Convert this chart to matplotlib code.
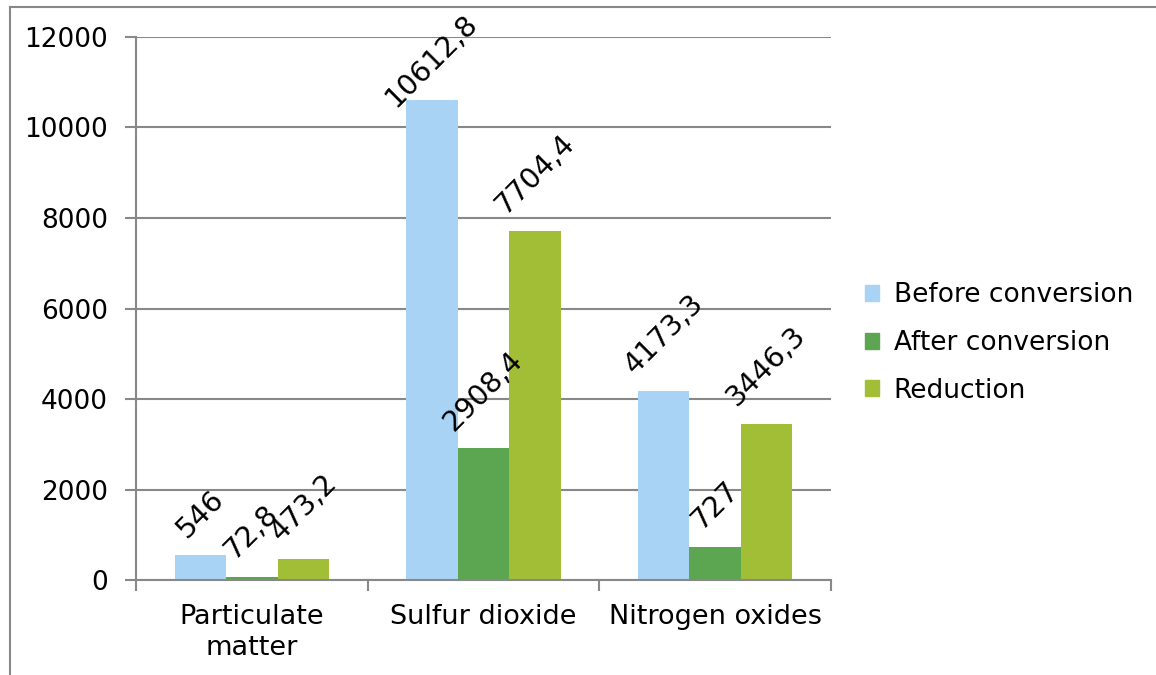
import matplotlib.pyplot as plt
import numpy as np
from matplotlib import rcParams
from matplotlib.lines import Line2D
from matplotlib.patches import Patch

fontsize = 19.5
labelsize = 20.5
gridcolor = '#888888'

rcParams['font.family'] = 'DejaVu Sans'
rcParams['font.size'] = fontsize

categories = ['Particulate\nmatter', 'Sulfur dioxide', 'Nitrogen oxides']
series = ['Before conversion', 'After conversion', 'Reduction']
before = [546, 10612.8, 4173.3]
after = [72.8, 2908.4, 727]
reduction = [473.2, 7704.4, 3446.3]
yticks = [0, 2000, 4000, 6000, 8000, 10000, 12000]
colors = ['#A8D3F4', '#5CA551', '#A2BE37']

fig = plt.figure(figsize=(11.56, 6.75), dpi=100)
ax = fig.add_axes([0.1176, 0.1407, 0.6013, 0.8045])

x = np.arange(len(categories))
width = 0.222
labels = []
for i, (vals, name) in enumerate(zip([before, after, reduction], series)):
    pos = x + (i - 1) * width
    ax.bar(pos, vals, width, color=colors[i], label=name, zorder=2)
    for px, v in zip(pos, vals):
        txt = f'{v:g}'.replace('.', ',')
        t = ax.annotate(txt, (px, v), xytext=(0, 9), textcoords='offset points',
                        ha='center', va='bottom', rotation=45, fontsize=labelsize,
                        zorder=3)
        labels.append(t)

ax.set_xlim(-0.5, 2.5)
ax.set_ylim(0, 12000)
ax.set_yticks(yticks)
ax.set_yticklabels([str(v) for v in yticks], fontsize=19)
ax.set_xticks(x)
ax.set_xticklabels(categories, linespacing=1.25)
ax.set_xticks([-0.5, 0.5, 1.5, 2.5], minor=True)
ax.tick_params(axis='x', which='major', length=0, pad=17)
ax.tick_params(axis='x', which='minor', length=8, width=1.5, color=gridcolor,
               direction='out')
ax.tick_params(axis='y', length=8, width=1.5, color=gridcolor, pad=12)
ax.yaxis.grid(True, color=gridcolor, lw=1.5)
ax.set_axisbelow(True)
for s in ['top', 'right']:
    ax.spines[s].set_visible(False)
for s in ['left', 'bottom']:
    ax.spines[s].set_color(gridcolor)
    ax.spines[s].set_linewidth(1.5)
ax.spines['bottom'].set_zorder(4)

handles = [Patch(color=c, label=n) for c, n in zip(colors, series)]
fig.legend(handles=handles, loc='center left', bbox_to_anchor=(0.748, 0.492),
           frameon=False, handlelength=0.55, handleheight=0.55,
           handletextpad=0.55, labelspacing=0.82, fontsize=19,
           borderpad=0, borderaxespad=0)

# figure border (left and top only visible)
fig.add_artist(Line2D([0.009, 0.009], [0, 0.99], color=gridcolor, lw=1.5))
fig.add_artist(Line2D([0.009, 1], [0.99, 0.99], color=gridcolor, lw=1.5))

# keep labels inside the chart area like the original
fig.canvas.draw()
r = fig.canvas.get_renderer()
limit = fig.bbox.height - 9
for t in labels:
    bb = t.get_window_extent(r)
    if bb.y1 > limit:
        dy = (bb.y1 - limit) * 72 / fig.dpi
        ox, oy = t.xyann
        t.xyann = (ox, oy - dy)

fig.savefig('out.png', dpi=100)
